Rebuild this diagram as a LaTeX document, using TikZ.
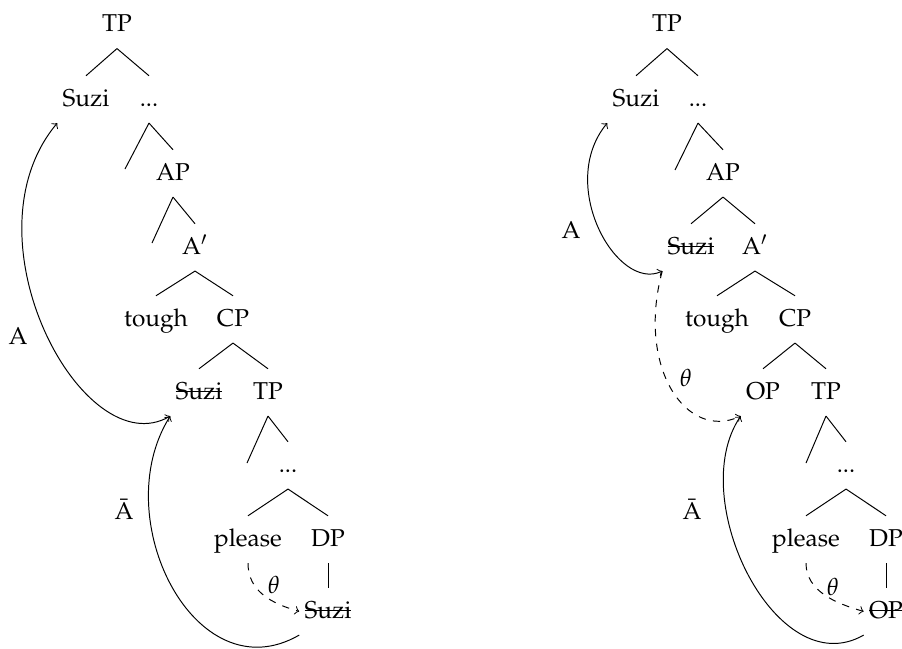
\documentclass[tikz,border=0pt]{standalone}
\usepackage[T1]{fontenc}
\usepackage{mathpazo}
\newsavebox\strkbox
\newcommand\strk[1]{\sbox\strkbox{#1}\rlap{\rule[0.27em]{\wd\strkbox}{0.4pt}}\usebox\strkbox}
\tikzset{
  syn/.style={anchor=base, inner xsep=2pt, inner ysep=5pt, text height=7.2pt, text depth=1.8pt},
  lbl/.style={inner sep=0pt},
  br/.style={line width=0.4pt},
  mv/.style={line width=0.4pt},
}
\begin{document}
\begin{tikzpicture}[x=0.41pt, y=-0.41pt]
\useasboundingbox (0,0) rectangle (902,648);
% ---------------- left tree ----------------
\node[syn] (lTP) at (117,31.5) {TP};
\node[syn] (lS1) at (86,106) {Suzi};
\node[syn] (lD1) at (149,106) {...};
\coordinate (lE1) at (125,169);
\node[syn] (lAP) at (173,180) {AP};
\coordinate (lE2) at (152,243);
\node[syn] (lAb) at (195,254) {A$'$};
\node[syn] (ltough) at (156,326) {tough};
\node[syn] (lCP) at (233,326) {CP};
\node[syn] (lS2) at (199,399) {\strk{Suzi}};
\node[syn] (lTP2) at (268,399) {TP};
\coordinate (lE3) at (247,463);
\node[syn] (lD2) at (288,472) {...};
\node[syn] (lplease) at (248,546) {please};
\node[syn] (lDP) at (328,546) {DP};
\node[syn] (lS3) at (328,618) {\strk{Suzi}};
\draw[br] (lTP.south) -- (lS1.north);
\draw[br] (lTP.south) -- (lD1.north);
\draw[br] (lD1.south) -- (lE1);
\draw[br] (lD1.south) -- (lAP.north);
\draw[br] (lAP.south) -- (lE2);
\draw[br] (lAP.south) -- (lAb.north);
\draw[br] (lAb.south) -- (ltough.north);
\draw[br] (lAb.south) -- (lCP.north);
\draw[br] (lCP.south) -- (lS2.north);
\draw[br] (lCP.south) -- (lTP2.north);
\draw[br] (lTP2.south) -- (lE3);
\draw[br] (lTP2.south) -- (lD2.north);
\draw[br] (lD2.south) -- (lplease.north);
\draw[br] (lD2.south) -- (lDP.north);
\draw[br] (lDP.south) -- (lS3.north);
\node[lbl] (lA) at (18,336) {A};
\node[lbl] (lAbar) at (124,509) {\=A};
\node[lbl] (lth) at (274,585) {$\theta$};
\draw[mv,<->] (lS2.south west) .. controls +(-87,50) and +(-96,115) .. (lS1.south west);
\draw[mv,->] (lS3.south west) .. controls +(-104,60) and +(-64,102) .. (lS2.south west);
\draw[mv,->,dashed] (lplease.south) .. controls +(0,28) and +(-28,-8) .. (lS3.west);
% ---------------- right tree ----------------
\node[syn] (rTP) at (667,31.5) {TP};
\node[syn] (rS1) at (636,106) {Suzi};
\node[syn] (rD1) at (698,106) {...};
\coordinate (rE1) at (675,170);
\node[syn] (rAP) at (723,180) {AP};
\node[syn] (rS2) at (691,254) {\strk{Suzi}};
\node[syn] (rAb) at (755,254) {A$'$};
\node[syn] (rtough) at (717,326) {tough};
\node[syn] (rCP) at (795,326) {CP};
\node[syn] (rOP) at (763,399) {OP};
\node[syn] (rTP2) at (826,399) {TP};
\coordinate (rE3) at (806,463);
\node[syn] (rD2) at (846,472) {...};
\node[syn] (rplease) at (806,546) {please};
\node[syn] (rDP) at (886,546) {DP};
\node[syn] (rOP2) at (886,618) {\strk{OP}};
\draw[br] (rTP.south) -- (rS1.north);
\draw[br] (rTP.south) -- (rD1.north);
\draw[br] (rD1.south) -- (rE1);
\draw[br] (rD1.south) -- (rAP.north);
\draw[br] (rAP.south) -- (rS2.north);
\draw[br] (rAP.south) -- (rAb.north);
\draw[br] (rAb.south) -- (rtough.north);
\draw[br] (rAb.south) -- (rCP.north);
\draw[br] (rCP.south) -- (rOP.north);
\draw[br] (rCP.south) -- (rTP2.north);
\draw[br] (rTP2.south) -- (rE3);
\draw[br] (rTP2.south) -- (rD2.north);
\draw[br] (rD2.south) -- (rplease.north);
\draw[br] (rD2.south) -- (rDP.north);
\draw[br] (rDP.south) -- (rOP2.north);
\node[lbl] (rA) at (571,230) {A};
\node[lbl] (rth1) at (686,378) {$\theta$};
\node[lbl] (rAbar) at (692,509) {\=A};
\node[lbl] (rth2) at (833,587) {$\theta$};
\draw[mv,<->] (rS2.south west) .. controls +(-45,21) and +(-51,62) .. (rS1.south west);
\draw[mv,->,dashed] (rS2.south west) .. controls +(-26,97) and +(-54,25) .. (rOP.south west);
\draw[mv,->] (rOP2.south west) .. controls +(-87,50) and +(-56,83) .. (rOP.south west);
\draw[mv,->,dashed] (rplease.south) .. controls +(0,28) and +(-28,-8) .. (rOP2.west);
\end{tikzpicture}
\end{document}
